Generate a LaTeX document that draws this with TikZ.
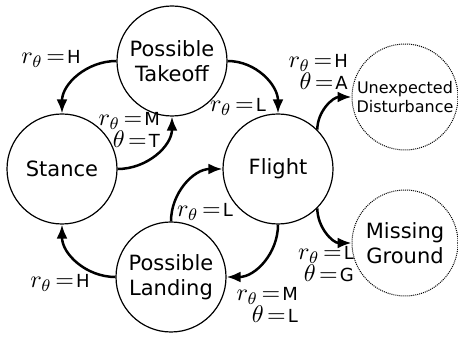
\documentclass[tikz,border=0pt]{standalone}
\usepackage{fontspec}
\usepackage{graphicx}
\setsansfont{DejaVu Sans}
\usetikzlibrary{arrows.meta}
\newcommand\lab[2]{\scalebox{2.4}{\fontsize{10}{12}\selectfont$#1\mkern2.5mu{=}$}\kern2pt{\sffamily #2}}
\newcommand\tightlines{\lineskiplimit-100pt\relax}
\begin{document}
\begin{tikzpicture}[x=1pt,y=1pt,
  state/.style={circle,draw,line width=1.2pt,minimum size=110pt,inner sep=0pt,align=center,font=\sffamily\fontsize{21}{25}\selectfont},
  other/.style={circle,draw,line width=1pt,dash pattern=on 1pt off 1pt,minimum size=106pt,inner sep=0pt,align=center},
  trans/.style={line width=2.5pt,-{Latex[length=14pt,width=11pt]}},
  lbl/.style={inner sep=0pt,align=right,font={\fontsize{18}{21.5}\selectfont\tightlines}}]
\useasboundingbox (0,0) rectangle (458,337);
\node[state] (pt) at (172,276) {Possible\\Takeoff};
\node[state] (st) at (62,168) {Stance};
\node[state] (fl) at (278,168) {Flight};
\node[state] (pl) at (171,60) {Possible\\Landing};
\node[other,font=\sffamily\fontsize{16}{19}\selectfont] (ud) at (405,240) {Unexpected\\Disturbance};
\node[other,font=\sffamily\fontsize{21}{25}\selectfont] (mg) at (405,94) {Missing\\Ground};

\draw[trans] (pt.west) to[out=180,in=90] (st.north);
\draw[trans] (st.east) to[out=0,in=-90] (pt.south);
\draw[trans] (pt.east) to[out=0,in=90] (fl.north);
\draw[trans] (fl.45) to[out=90,in=180] (ud.west);
\draw[trans] (fl.-45) to[out=-90,in=180] (mg.west);
\draw[trans] (fl.south) to[out=-90,in=0] (pl.east);
\draw[trans] (pl.north) to[out=90,in=180] (fl.west);
\draw[trans] (pl.west) to[out=180,in=-90] (st.south);

\node[lbl] (l1) at (51,278) {\lab{r_\theta}{H}};
\node[lbl,anchor=east] (l2) at (160,207) {\lab{r_\theta}{M}\\\lab{\theta}{T}};
\node[lbl] (l3) at (238,230) {\lab{r_\theta}{L}};
\node[lbl,anchor=east] (l4) at (348,265) {\lab{r_\theta}{H}\\\lab{\theta}{A}};
\node[lbl,anchor=east] (l5) at (354,73) {\lab{r_\theta}{L}\\\lab{\theta}{G}};
\node[lbl,anchor=east] (l6) at (298,32) {\lab{r_\theta}{M}\\\lab{\theta}{L}};
\node[lbl] (l7) at (205,125) {\lab{r_\theta}{L}};
\node[lbl] (l8) at (60,54) {\lab{r_\theta}{H}};
\end{tikzpicture}
\end{document}
